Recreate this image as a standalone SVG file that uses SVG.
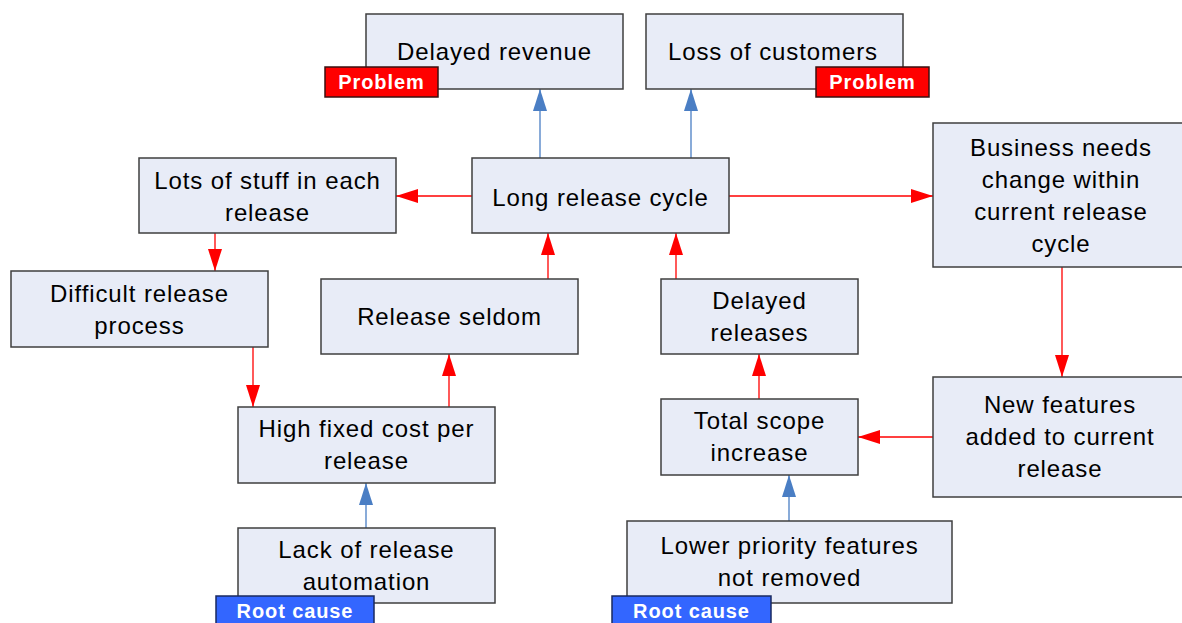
<svg xmlns="http://www.w3.org/2000/svg" width="1182" height="623" viewBox="0 0 1182 623">
<style>
.box{fill:#E8ECF7;stroke:#3F3F3F;stroke-width:1.5}
.t{font-family:"Liberation Sans",Arial,sans-serif;font-size:24px;letter-spacing:0.9px;fill:#000;text-anchor:middle}
.prob{fill:#FF0000;stroke:#3A1010;stroke-width:1.5}
.root{fill:#3366FF;stroke:#1A2A60;stroke-width:1.5}
.bt{font-family:"Liberation Sans",Arial,sans-serif;font-size:20px;font-weight:bold;letter-spacing:0.9px;fill:#fff;text-anchor:middle}
.red{stroke:#FF0000;stroke-width:1.3;fill:none;marker-end:url(#ar)}
.blue{stroke:#4A7EC4;stroke-width:1.3;fill:none;marker-end:url(#ab)}
</style>
<defs>
<marker id="ar" markerUnits="userSpaceOnUse" markerWidth="22" markerHeight="14" refX="22" refY="7" orient="auto"><path d="M0,0 L22,7 L0,14 z" fill="#FF0000"/></marker>
<marker id="ab" markerUnits="userSpaceOnUse" markerWidth="22" markerHeight="14" refX="22" refY="7" orient="auto"><path d="M0,0 L22,7 L0,14 z" fill="#4A7EC4"/></marker>
</defs>
<rect width="1182" height="623" fill="#fff"/>
<g id="connectors">
<path class="blue" d="M540 158 V89"/>
<path class="blue" d="M691 158 V89"/>
<path class="red" d="M472 196 H396"/>
<path class="red" d="M729 196 H933"/>
<path class="red" d="M215 233 V271"/>
<path class="red" d="M253 347 V407"/>
<path class="red" d="M449 407 V354"/>
<path class="red" d="M548 279 V233"/>
<path class="red" d="M676 279 V233"/>
<path class="red" d="M759 399 V354"/>
<path class="red" d="M1062 267 V377"/>
<path class="red" d="M933 437 H858"/>
<path class="blue" d="M366 528 V483"/>
<path class="blue" d="M789 521 V475"/>
</g>
<g id="delayed-revenue">
<rect class="box" x="366" y="14" width="257" height="75"/>
<text class="t" x="494.5" y="60">Delayed revenue</text>
<rect class="prob" x="325" y="67" width="113" height="30"/>
<text class="bt" x="381.5" y="89">Problem</text>
</g>
<g id="loss-of-customers">
<rect class="box" x="646" y="14" width="257" height="75"/>
<text class="t" x="773" y="60">Loss of customers</text>
<rect class="prob" x="816" y="67" width="113" height="30"/>
<text class="bt" x="872.5" y="89">Problem</text>
</g>
<g id="long-release-cycle">
<rect class="box" x="472" y="158" width="257" height="75"/>
<text class="t" x="600.5" y="206">Long release cycle</text>
</g>
<g id="lots-of-stuff">
<rect class="box" x="139" y="158" width="257" height="75"/>
<text class="t" x="267.5" y="189">Lots of stuff in each</text>
<text class="t" x="267.5" y="221">release</text>
</g>
<g id="business-needs">
<rect class="box" x="933" y="123" width="257" height="144"/>
<text class="t" x="1061" y="156">Business needs</text>
<text class="t" x="1061" y="188">change within</text>
<text class="t" x="1061" y="220">current release</text>
<text class="t" x="1061" y="252">cycle</text>
</g>
<g id="difficult-release-process">
<rect class="box" x="11" y="271" width="257" height="76"/>
<text class="t" x="139.5" y="302">Difficult release</text>
<text class="t" x="139.5" y="334">process</text>
</g>
<g id="release-seldom">
<rect class="box" x="321" y="279" width="257" height="75"/>
<text class="t" x="449.5" y="325">Release seldom</text>
</g>
<g id="delayed-releases">
<rect class="box" x="661" y="279" width="197" height="75"/>
<text class="t" x="759.5" y="309">Delayed</text>
<text class="t" x="759.5" y="341">releases</text>
</g>
<g id="total-scope-increase">
<rect class="box" x="661" y="399" width="197" height="76"/>
<text class="t" x="759.5" y="429">Total scope</text>
<text class="t" x="759.5" y="461">increase</text>
</g>
<g id="new-features">
<rect class="box" x="933" y="377" width="257" height="120"/>
<text class="t" x="1060" y="413">New features</text>
<text class="t" x="1060" y="445">added to current</text>
<text class="t" x="1060" y="477">release</text>
</g>
<g id="high-fixed-cost">
<rect class="box" x="238" y="407" width="257" height="76"/>
<text class="t" x="366.5" y="437">High fixed cost per</text>
<text class="t" x="366.5" y="469">release</text>
</g>
<g id="lack-of-automation">
<rect class="box" x="238" y="528" width="257" height="75"/>
<text class="t" x="366.5" y="558">Lack of release</text>
<text class="t" x="366.5" y="590">automation</text>
<rect class="root" x="216" y="596" width="158" height="32"/>
<text class="bt" x="295" y="618">Root cause</text>
</g>
<g id="lower-priority">
<rect class="box" x="627" y="521" width="325" height="82"/>
<text class="t" x="789.5" y="554">Lower priority features</text>
<text class="t" x="789.5" y="586">not removed</text>
<rect class="root" x="612" y="596" width="159" height="32"/>
<text class="bt" x="691.5" y="618">Root cause</text>
</g>
</svg>
